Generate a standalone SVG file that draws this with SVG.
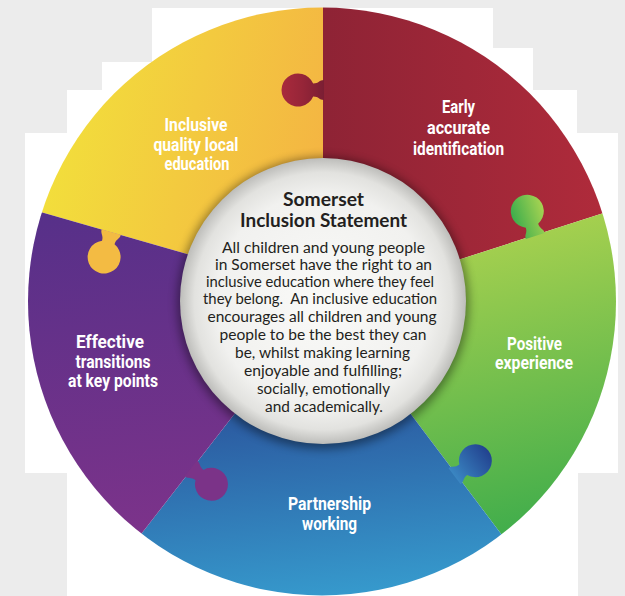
<svg xmlns="http://www.w3.org/2000/svg" xmlns:xlink="http://www.w3.org/1999/xlink" width="625" height="596" viewBox="0 0 625 596">
  <style>
    .lbl { font-family: Roboto, "Liberation Sans", sans-serif; font-weight: bold; font-size: 18px; fill: #ffffff; text-anchor: middle; }
    .title { font-family: Lato, "Noto Sans", sans-serif; font-weight: bold; font-size: 18px; fill: #231f20; text-anchor: middle; }
    .body { font-family: Lato, "Noto Sans", sans-serif; font-size: 15.5px; fill: #231f20; text-anchor: middle; }
  </style>
  <defs>
    <clipPath id="outer"><circle cx="322" cy="301.5" r="294"/></clipPath>
    <linearGradient id="gYellow" gradientUnits="userSpaceOnUse" x1="40" y1="150" x2="320" y2="210">
      <stop offset="0" stop-color="#f2e03b"/><stop offset="1" stop-color="#f4b443"/>
    </linearGradient>
    <linearGradient id="gRed" gradientUnits="userSpaceOnUse" x1="323" y1="150" x2="610" y2="150">
      <stop offset="0" stop-color="#8e2335"/><stop offset="1" stop-color="#b02b3b"/>
    </linearGradient>
    <linearGradient id="gGreen" gradientUnits="userSpaceOnUse" x1="480" y1="220" x2="560" y2="560">
      <stop offset="0" stop-color="#acd24f"/><stop offset="1" stop-color="#34a94b"/>
    </linearGradient>
    <linearGradient id="gBlue" gradientUnits="userSpaceOnUse" x1="300" y1="420" x2="320" y2="596">
      <stop offset="0" stop-color="#2c5ea3"/><stop offset="1" stop-color="#3699cc"/>
    </linearGradient>
    <linearGradient id="gPurple" gradientUnits="userSpaceOnUse" x1="100" y1="210" x2="140" y2="560">
      <stop offset="0" stop-color="#573089"/><stop offset="1" stop-color="#7f338a"/>
    </linearGradient>
    <linearGradient id="kRed" x1="0" y1="0" x2="1" y2="0">
      <stop offset="0" stop-color="#7a1e33"/><stop offset="0.5" stop-color="#962538"/><stop offset="1" stop-color="#a92a3c"/>
    </linearGradient>
    <linearGradient id="kGreen" x1="0" y1="1" x2="0" y2="0">
      <stop offset="0" stop-color="#a6d352"/><stop offset="1" stop-color="#3dad4c"/>
    </linearGradient>
    <linearGradient id="kBlue" x1="0" y1="0" x2="1" y2="0">
      <stop offset="0" stop-color="#3a86c2"/><stop offset="1" stop-color="#22428f"/>
    </linearGradient>
    <radialGradient id="gInner" cx="0.5" cy="0.5" r="0.5">
      <stop offset="0" stop-color="#fafaf8"/><stop offset="0.75" stop-color="#f1f1ef"/>
      <stop offset="0.9" stop-color="#e2e2df"/><stop offset="1" stop-color="#bdbdba"/>
    </radialGradient>
    <filter id="blur" x="-20%" y="-20%" width="140%" height="140%"><feGaussianBlur stdDeviation="5"/></filter>
    <path id="knob" d="M-1,-10 C4,-10 4,-6.5 9.83,-6.5 A16.5,16.5 0 1 1 9.83,6.5 C4,6.5 4,10 -1,10 Z"/>
  </defs>

  <rect width="625" height="596" fill="#ececec"/>
  <polygon fill="#ffffff" points="152,8 493,8 493,48 533,48 533,90 577,90 577,133 618,133 618,473 578,473 578,596 67,596 67,473 25,473 25,133 67,133 67,90 102,90 102,62 152,62"/>

  <g id="pieces" clip-path="url(#outer)">
    <g id="node-inclusive-quality">
      <path fill="url(#gYellow)" d="M323,293 L-61.6,182.7 L-80,-100 L323,-100 L323,300 Z"/>
    </g>
    <g id="node-early-identification">
      <path fill="url(#gRed)" d="M323,300 L323,-100 L720,-100 L703.6,180.6 L323,303.6 Z"/>
    </g>
    <g id="node-positive-experience">
      <path fill="url(#gGreen)" d="M323,303.6 L703.6,180.6 L720,620 L563.7,617 L323,297.6 Z"/>
    </g>
    <g id="node-partnership">
      <path fill="url(#gBlue)" d="M323,297.6 L563.7,617 L77.6,615.9 L323,300 Z"/>
    </g>
    <g id="node-transitions">
      <path fill="url(#gPurple)" d="M323,300 L77.6,615.9 L-80,620 L-61.6,182.7 L323,293 Z"/>
    </g>
  </g>

  <g id="connectors">
    <use href="#knob" fill="url(#kRed)" transform="translate(323,90) rotate(180)"/>
    <use href="#knob" fill="url(#kGreen)" transform="translate(535,235) rotate(-107.9)"/>
    <use href="#knob" fill="url(#kBlue)" transform="translate(455.4,475.7) rotate(-37)"/>
    <use href="#knob" fill="#7b3388" transform="translate(191.7,469) rotate(37.8)"/>
    <use href="#knob" fill="#f3bb43" transform="translate(111,233) rotate(106)"/>
  </g>

  <g id="labels">
    <g id="label-inclusive-quality">
      <text class="lbl" x="196" y="131" textLength="63" lengthAdjust="spacingAndGlyphs">Inclusive</text>
      <text class="lbl" x="196" y="151" textLength="85" lengthAdjust="spacingAndGlyphs">quality local</text>
      <text class="lbl" x="197" y="170" textLength="65" lengthAdjust="spacingAndGlyphs">education</text>
    </g>
    <g id="label-early-identification">
      <text class="lbl" x="458.5" y="113" textLength="33" lengthAdjust="spacingAndGlyphs">Early</text>
      <text class="lbl" x="458.5" y="134" textLength="63" lengthAdjust="spacingAndGlyphs">accurate</text>
      <text class="lbl" x="458.5" y="155" textLength="91" lengthAdjust="spacingAndGlyphs">identification</text>
    </g>
    <g id="label-positive-experience">
      <text class="lbl" x="534.5" y="350" textLength="55" lengthAdjust="spacingAndGlyphs">Positive</text>
      <text class="lbl" x="534" y="369" textLength="78" lengthAdjust="spacingAndGlyphs">experience</text>
    </g>
    <g id="label-partnership">
      <text class="lbl" x="329.5" y="510" textLength="83" lengthAdjust="spacingAndGlyphs">Partnership</text>
      <text class="lbl" x="329.5" y="530" textLength="55" lengthAdjust="spacingAndGlyphs">working</text>
    </g>
    <g id="label-transitions">
      <text class="lbl" x="110" y="348" textLength="68" lengthAdjust="spacingAndGlyphs">Effective</text>
      <text class="lbl" x="113" y="368" textLength="75" lengthAdjust="spacingAndGlyphs">transitions</text>
      <text class="lbl" x="113" y="387" textLength="90" lengthAdjust="spacingAndGlyphs">at key points</text>
    </g>
  </g>

  <g id="node-statement">
    <circle cx="323" cy="303" r="146" fill="#000" opacity="0.4" filter="url(#blur)"/>
    <circle cx="323" cy="301" r="143" fill="url(#gInner)"/>
    <text class="title" x="323.5" y="206" textLength="81" lengthAdjust="spacingAndGlyphs">Somerset</text>
    <text class="title" x="323.5" y="227" textLength="167" lengthAdjust="spacingAndGlyphs">Inclusion Statement</text>
    <text class="body" x="323.5" y="253" textLength="203" lengthAdjust="spacingAndGlyphs">All children and young people</text>
    <text class="body" x="323.5" y="270" textLength="217" lengthAdjust="spacingAndGlyphs">in Somerset have the right to an</text>
    <text class="body" x="320" y="287" textLength="228" lengthAdjust="spacingAndGlyphs">inclusive education where they feel</text>
    <text class="body" x="320" y="304" textLength="234" lengthAdjust="spacingAndGlyphs" xml:space="preserve">they belong.  An inclusive education</text>
    <text class="body" x="322" y="322" textLength="229" lengthAdjust="spacingAndGlyphs">encourages all children and young</text>
    <text class="body" x="323" y="340" textLength="207" lengthAdjust="spacingAndGlyphs">people to be the best they can</text>
    <text class="body" x="322.5" y="358" textLength="175" lengthAdjust="spacingAndGlyphs">be, whilst making learning</text>
    <text class="body" x="323" y="376" textLength="158" lengthAdjust="spacingAndGlyphs">enjoyable and fulfilling;</text>
    <text class="body" x="323.5" y="394" textLength="133" lengthAdjust="spacingAndGlyphs">socially, emotionally</text>
    <text class="body" x="324" y="412" textLength="118" lengthAdjust="spacingAndGlyphs">and academically.</text>
  </g>
</svg>
